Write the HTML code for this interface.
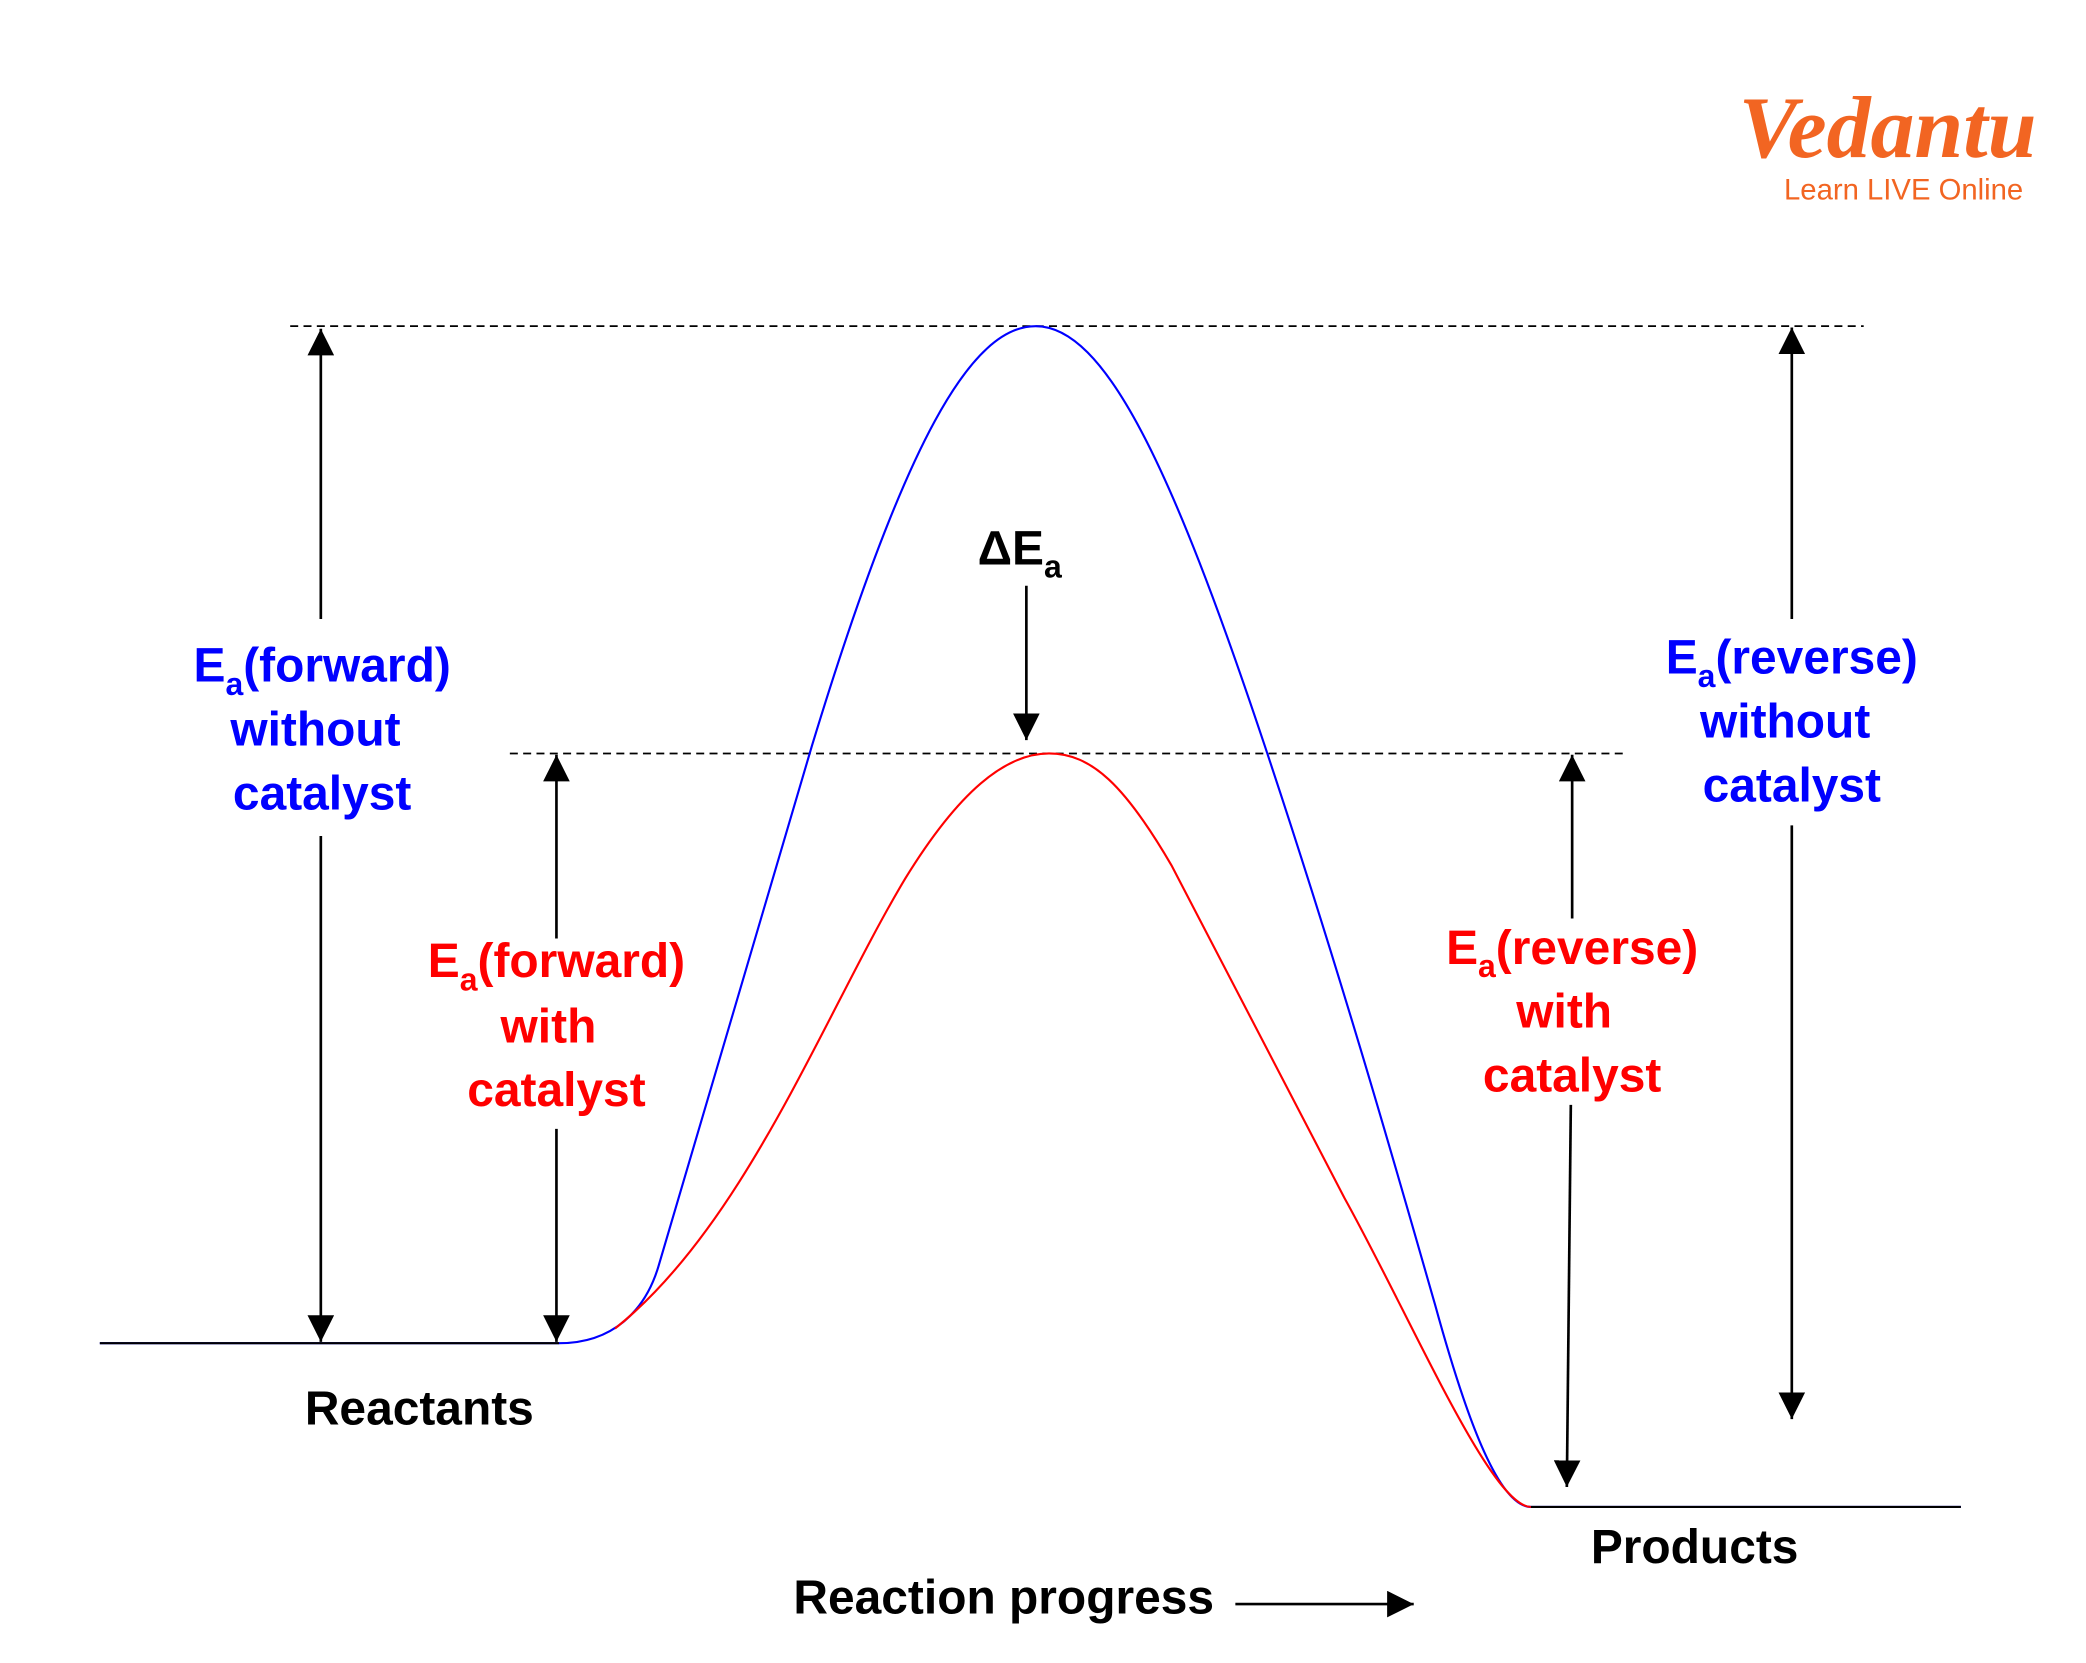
<!DOCTYPE html>
<html><head><meta charset="utf-8"><style>html,body{margin:0;padding:0;background:#fff}svg{display:block}</style></head>
<body>
<svg width="2086" height="1663" viewBox="0 0 1567 1249" preserveAspectRatio="xMinYMin meet" xmlns="http://www.w3.org/2000/svg" font-family="Liberation Sans, sans-serif">
<defs>
<marker id="ah" viewBox="0 0 10 10" refX="10" refY="5" markerWidth="20" markerHeight="20" markerUnits="userSpaceOnUse" orient="auto-start-reverse"><path d="M0,0 L10,5 L0,10 z" fill="#000"/></marker>
</defs>
<text x="1418" y="118" text-anchor="middle" font-family="Liberation Serif, serif" font-style="italic" font-weight="bold" font-size="66" fill="#f26522">Vedantu</text>
<text x="1430" y="150" text-anchor="middle" font-size="22" fill="#f26522">Learn LIVE Online</text>
<line x1="218" y1="245" x2="1400" y2="245" stroke="#000" stroke-width="1.3" stroke-dasharray="6,4"/>
<line x1="383" y1="566" x2="1220" y2="566" stroke="#000" stroke-width="1.3" stroke-dasharray="6,4"/>
<path d="M75 1009 L420 1009 C460 1009 485 985 495 950 L610 560 C680 330 730 245 778 245 C830 245 880 350 950 560 C1010 740 1055 900 1078 980 C1100 1060 1125 1132 1150 1132 L1473 1132" fill="none" stroke="#0000ff" stroke-width="1.6"/>
<path d="M75 1009 L420 1009" fill="none" stroke="#000" stroke-width="1.6"/>
<path d="M1150 1132 L1473 1132" fill="none" stroke="#000" stroke-width="1.6"/>
<path d="M462 998 C560 920 620 760 680 660 C720 595 755 566 788 566 C820 566 845 590 880 650 L1010 900 C1060 990 1120 1132 1150 1132" fill="none" stroke="#ff0000" stroke-width="1.6"/>
<g stroke="#000" stroke-width="2" fill="none">
<line x1="241" y1="465" x2="241" y2="247" marker-end="url(#ah)"/>
<line x1="241" y1="628" x2="241" y2="1008" marker-end="url(#ah)"/>
<line x1="418" y1="705" x2="418" y2="567" marker-end="url(#ah)"/>
<line x1="418" y1="848" x2="418" y2="1008" marker-end="url(#ah)"/>
<line x1="771" y1="440" x2="771" y2="556" marker-end="url(#ah)"/>
<line x1="1181" y1="690" x2="1181" y2="567" marker-end="url(#ah)"/>
<line x1="1180" y1="830" x2="1177" y2="1117" marker-end="url(#ah)"/>
<line x1="1346" y1="465" x2="1346" y2="246" marker-end="url(#ah)"/>
<line x1="1346" y1="620" x2="1346" y2="1066" marker-end="url(#ah)"/>
<line x1="928" y1="1205" x2="1062" y2="1205" marker-end="url(#ah)"/>
</g>
<g font-size="36" font-weight="bold" text-anchor="middle">
<g fill="#0000ff">
<text x="242" y="512">E<tspan font-size="24" dy="10">a</tspan><tspan dy="-10">(forward)</tspan></text>
<text x="237" y="560">without</text>
<text x="242" y="608">catalyst</text>
<text x="1346" y="506">E<tspan font-size="24" dy="10">a</tspan><tspan dy="-10">(reverse)</tspan></text>
<text x="1341" y="554">without</text>
<text x="1346" y="602">catalyst</text>
</g>
<g fill="#ff0000">
<text x="418" y="734">E<tspan font-size="24" dy="10">a</tspan><tspan dy="-10">(forward)</tspan></text>
<text x="412" y="783">with</text>
<text x="418" y="831">catalyst</text>
<text x="1181" y="724">E<tspan font-size="24" dy="10">a</tspan><tspan dy="-10">(reverse)</tspan></text>
<text x="1175" y="772">with</text>
<text x="1181" y="820">catalyst</text>
</g>
<g fill="#000">
<text x="766" y="424">ΔE<tspan font-size="24" dy="10">a</tspan></text>
<text x="315" y="1070">Reactants</text>
<text x="1273" y="1174">Products</text>
<text x="754" y="1212">Reaction progress</text>
</g>
</g>
</svg>
</body></html>
